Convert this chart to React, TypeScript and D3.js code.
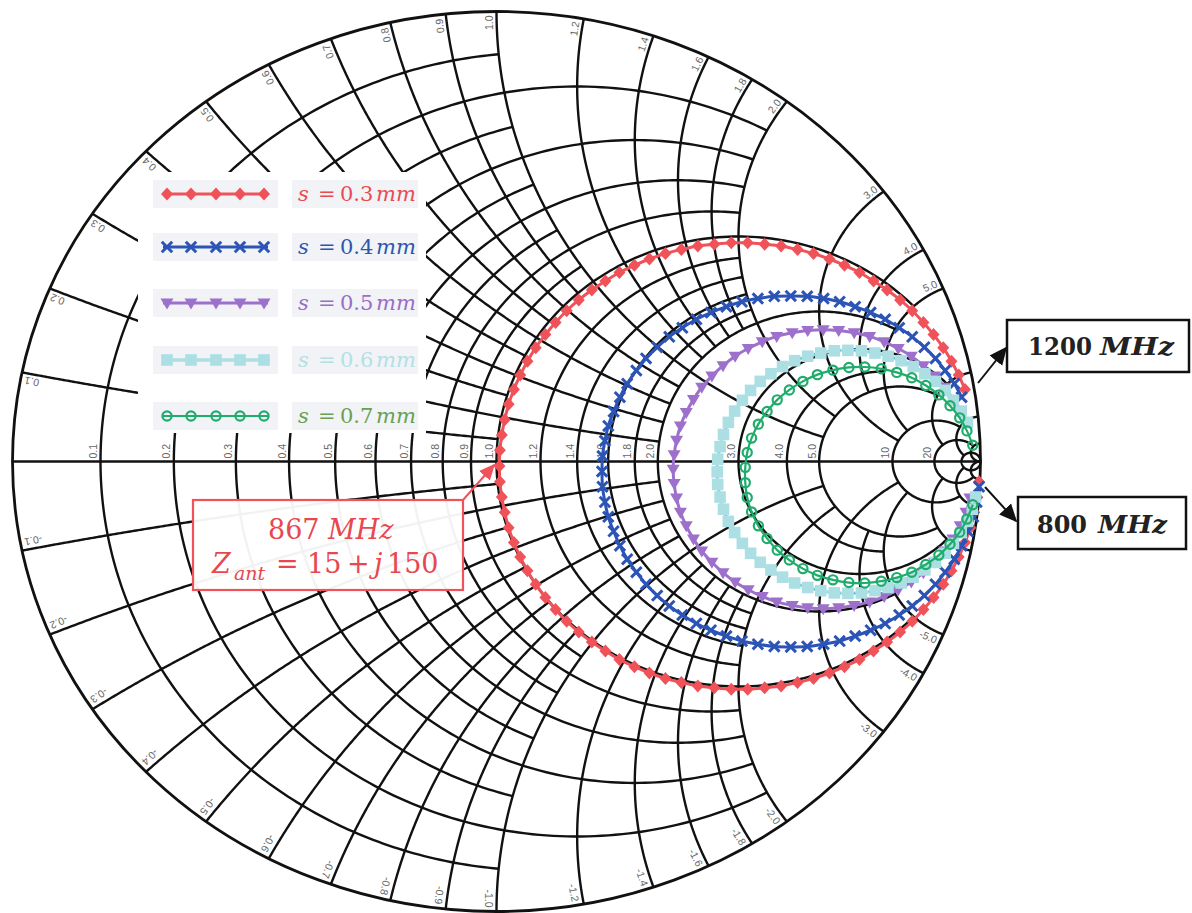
import React from "react";
import * as d3 from "d3";

type P = [number, number];

// Smith chart grid: values and the extent (in the other coordinate) each line is drawn to
const gridValues = [0.1, 0.2, 0.3, 0.4, 0.5, 0.6, 0.7, 0.8, 0.9, 1.0, 1.2, 1.4, 1.6, 1.8, 2.0, 3.0, 4.0, 5.0, 10, 20, 50];
const gridLimits = [1, 2, 1, 2, 1, 2, 1, 2, 1, 5, 2, 2, 2, 2, 5, 10, 5, 10, 20, 50, Infinity];
const axisLabelValues = [0.1, 0.2, 0.3, 0.4, 0.5, 0.6, 0.7, 0.8, 0.9, 1.0, 1.2, 1.4, 1.6, 1.8, 2.0, 3.0, 4.0, 5.0, 10, 20];
const rimLabelValues = [0.1, 0.2, 0.3, 0.4, 0.5, 0.6, 0.7, 0.8, 0.9, 1.0, 1.2, 1.4, 1.6, 1.8, 2.0, 3.0, 4.0, 5.0];

// series: slot spacing s (mm)
const spacingLabels = ["0.3", "0.4", "0.5", "0.6", "0.7"];

// reflection coefficient traces (re, im), 800 MHz -> 1200 MHz
const gammaS03: P[] = [
  [0.997, -0.045], [0.993, -0.079], [0.987, -0.113], [0.979, -0.147], [0.968, -0.180], [0.955, -0.212],
  [0.940, -0.243], [0.923, -0.273], [0.903, -0.302], [0.882, -0.329], [0.859, -0.355], [0.834, -0.379],
  [0.807, -0.401], [0.779, -0.421], [0.750, -0.440], [0.719, -0.456], [0.688, -0.470], [0.655, -0.482],
  [0.622, -0.491], [0.588, -0.499], [0.554, -0.503], [0.519, -0.506], [0.485, -0.506], [0.450, -0.503],
  [0.416, -0.499], [0.382, -0.491], [0.349, -0.482], [0.316, -0.470], [0.285, -0.456], [0.254, -0.440],
  [0.225, -0.421], [0.197, -0.401], [0.170, -0.379], [0.145, -0.355], [0.122, -0.329], [0.101, -0.302],
  [0.081, -0.273], [0.064, -0.243], [0.049, -0.212], [0.036, -0.180], [0.025, -0.147], [0.017, -0.113],
  [0.011, -0.079], [0.007, -0.045], [0.006, -0.010], [0.007, 0.025], [0.011, 0.059], [0.017, 0.093],
  [0.025, 0.127], [0.036, 0.160], [0.049, 0.192], [0.064, 0.223], [0.081, 0.253], [0.101, 0.282],
  [0.122, 0.309], [0.145, 0.335], [0.170, 0.359], [0.197, 0.381], [0.225, 0.401], [0.254, 0.420],
  [0.285, 0.436], [0.316, 0.450], [0.349, 0.462], [0.382, 0.471], [0.416, 0.479], [0.450, 0.483],
  [0.485, 0.486], [0.519, 0.486], [0.554, 0.483], [0.588, 0.479], [0.622, 0.471], [0.655, 0.462],
  [0.688, 0.450], [0.719, 0.436], [0.750, 0.420], [0.779, 0.401], [0.807, 0.381], [0.834, 0.359],
  [0.859, 0.335], [0.882, 0.309], [0.903, 0.282], [0.923, 0.253], [0.940, 0.223], [0.955, 0.192],
  [0.968, 0.160],
];
const gammaS04: P[] = [
  [0.997, -0.056], [0.992, -0.090], [0.985, -0.123], [0.974, -0.155], [0.961, -0.187], [0.946, -0.217],
  [0.927, -0.246], [0.907, -0.273], [0.884, -0.298], [0.859, -0.321], [0.832, -0.341], [0.803, -0.360],
  [0.773, -0.375], [0.741, -0.388], [0.709, -0.399], [0.676, -0.406], [0.642, -0.411], [0.608, -0.412],
  [0.574, -0.411], [0.540, -0.406], [0.507, -0.399], [0.475, -0.388], [0.443, -0.375], [0.413, -0.360],
  [0.384, -0.341], [0.357, -0.321], [0.332, -0.298], [0.309, -0.273], [0.289, -0.246], [0.270, -0.217],
  [0.255, -0.187], [0.242, -0.155], [0.231, -0.123], [0.224, -0.090], [0.219, -0.056], [0.218, -0.022],
  [0.219, 0.012], [0.224, 0.046], [0.231, 0.079], [0.242, 0.111], [0.255, 0.143], [0.270, 0.173],
  [0.289, 0.202], [0.309, 0.229], [0.332, 0.254], [0.357, 0.277], [0.384, 0.297], [0.413, 0.316],
  [0.443, 0.331], [0.475, 0.344], [0.507, 0.355], [0.540, 0.362], [0.574, 0.367], [0.608, 0.368],
  [0.642, 0.367], [0.676, 0.362], [0.709, 0.355], [0.741, 0.344], [0.773, 0.331], [0.803, 0.316],
  [0.832, 0.297], [0.859, 0.277], [0.884, 0.254], [0.907, 0.229], [0.927, 0.202], [0.946, 0.173],
  [0.961, 0.143],
];
const gammaS05: P[] = [
  [0.978, -0.081], [0.970, -0.113], [0.958, -0.143], [0.943, -0.172], [0.926, -0.199], [0.905, -0.224],
  [0.882, -0.247], [0.857, -0.268], [0.830, -0.285], [0.801, -0.300], [0.771, -0.312], [0.739, -0.320],
  [0.707, -0.325], [0.675, -0.327], [0.643, -0.325], [0.611, -0.320], [0.579, -0.312], [0.549, -0.300],
  [0.520, -0.285], [0.493, -0.268], [0.468, -0.247], [0.445, -0.224], [0.424, -0.199], [0.407, -0.172],
  [0.392, -0.143], [0.380, -0.113], [0.372, -0.081], [0.367, -0.049], [0.365, -0.017], [0.367, 0.015],
  [0.372, 0.047], [0.380, 0.079], [0.392, 0.109], [0.407, 0.138], [0.424, 0.165], [0.445, 0.190],
  [0.468, 0.213], [0.493, 0.234], [0.520, 0.251], [0.549, 0.266], [0.579, 0.278], [0.611, 0.286],
  [0.643, 0.291], [0.675, 0.293], [0.707, 0.291], [0.739, 0.286], [0.771, 0.278], [0.801, 0.266],
  [0.830, 0.251], [0.857, 0.234], [0.882, 0.213], [0.905, 0.190], [0.926, 0.165], [0.943, 0.138],
  [0.958, 0.109],
];
const gammaS06: P[] = [
  [0.990, -0.079], [0.983, -0.106], [0.973, -0.133], [0.960, -0.158], [0.944, -0.182], [0.927, -0.204],
  [0.907, -0.224], [0.885, -0.241], [0.861, -0.257], [0.836, -0.270], [0.809, -0.280], [0.782, -0.287],
  [0.754, -0.292], [0.726, -0.293], [0.698, -0.292], [0.670, -0.287], [0.643, -0.280], [0.616, -0.270],
  [0.591, -0.257], [0.567, -0.241], [0.545, -0.224], [0.525, -0.204], [0.508, -0.182], [0.492, -0.158],
  [0.479, -0.133], [0.469, -0.106], [0.462, -0.079], [0.457, -0.051], [0.456, -0.023], [0.457, 0.005],
  [0.462, 0.033], [0.469, 0.060], [0.479, 0.087], [0.492, 0.112], [0.508, 0.136], [0.525, 0.158],
  [0.545, 0.178], [0.567, 0.195], [0.591, 0.211], [0.616, 0.224], [0.643, 0.234], [0.670, 0.241],
  [0.698, 0.246], [0.726, 0.247], [0.754, 0.246], [0.782, 0.241], [0.809, 0.234], [0.836, 0.224],
  [0.861, 0.211], [0.885, 0.195], [0.907, 0.178], [0.927, 0.158], [0.944, 0.136], [0.960, 0.112],
  [0.973, 0.087],
];
const gammaS07: P[] = [
  [0.984, -0.096], [0.972, -0.128], [0.957, -0.157], [0.937, -0.184], [0.914, -0.208], [0.887, -0.229],
  [0.858, -0.246], [0.827, -0.258], [0.795, -0.266], [0.761, -0.270], [0.728, -0.269], [0.695, -0.263],
  [0.663, -0.253], [0.633, -0.238], [0.605, -0.219], [0.580, -0.197], [0.559, -0.171], [0.541, -0.143],
  [0.527, -0.112], [0.518, -0.080], [0.514, -0.047], [0.514, -0.013], [0.518, 0.020], [0.527, 0.052],
  [0.541, 0.083], [0.559, 0.111], [0.580, 0.137], [0.605, 0.159], [0.633, 0.178], [0.663, 0.193],
  [0.695, 0.203], [0.728, 0.209], [0.761, 0.210], [0.795, 0.206], [0.827, 0.198], [0.858, 0.186],
  [0.887, 0.169], [0.914, 0.148], [0.937, 0.124], [0.957, 0.097], [0.972, 0.068], [0.984, 0.036],
];

const W = 1192;
const H = 913;

type MarkerKind = "diamond" | "x" | "tri" | "square" | "circle";
const seriesStyles: { data: P[]; color: string; text: string; marker: MarkerKind; lw: number }[] = [
  { data: gammaS03, color: "#ef5359", text: "#ea4a52", marker: "diamond", lw: 3 },
  { data: gammaS04, color: "#2b54b6", text: "#2d55b2", marker: "x", lw: 3 },
  { data: gammaS05, color: "#9d70cb", text: "#9a6dc6", marker: "tri", lw: 3 },
  { data: gammaS06, color: "#acdfe3", text: "#b2e0e5", marker: "square", lw: 3.5 },
  { data: gammaS07, color: "#1fac6c", text: "#69a053", marker: "circle", lw: 2.2 },
];

function gammaOf(r: number, x: number): P {
  const d = (r + 1) * (r + 1) + x * x;
  return [(r * r + x * x - 1) / d, (2 * x) / d];
}

function fmt(v: number) {
  return v < 10 ? v.toFixed(1) : String(v);
}

function Marker({ kind, x, y, color }: { kind: MarkerKind; x: number; y: number; color: string }) {
  switch (kind) {
    case "diamond":
      return <path d={`M${x},${y - 6.5}L${x + 6},${y}L${x},${y + 6.5}L${x - 6},${y}Z`} fill={color} />;
    case "x":
      return (
        <path
          d={`M${x - 5.2},${y - 5.2}L${x + 5.2},${y + 5.2}M${x - 5.2},${y + 5.2}L${x + 5.2},${y - 5.2}`}
          stroke={color}
          strokeWidth={3}
          fill="none"
        />
      );
    case "tri":
      return <path d={`M${x - 6.5},${y - 4.5}L${x + 6.5},${y - 4.5}L${x},${y + 6.5}Z`} fill={color} />;
    case "square":
      return <rect x={x - 5.8} y={y - 5.8} width={11.6} height={11.6} fill={color} />;
    case "circle":
      return <circle cx={x} cy={y} r={4.6} fill="none" stroke={color} strokeWidth={2.2} />;
  }
}

export default function App() {
  const sx = d3.scaleLinear().domain([-1, 1]).range([12.5, 980.5]);
  const sy = d3.scaleLinear().domain([-1, 1]).range([911.5, 11.5]);
  const line = d3
    .line<P>()
    .x((d) => sx(d[0]))
    .y((d) => sy(d[1]));
  const smooth = d3
    .line<P>()
    .x((d) => sx(d[0]))
    .y((d) => sy(d[1]))
    .curve(d3.curveCatmullRom);

  const N = 240;
  const rCircle = (r: number, L: number) => {
    const umax = L === Infinity ? Math.PI / 2 - 1e-5 : Math.atan(L / (r + 1));
    const pts = d3.range(N + 1).map((i) => {
      const u = -umax + (2 * umax * i) / N;
      return gammaOf(r, (r + 1) * Math.tan(u));
    });
    return line(pts) || "";
  };
  const xArc = (x: number, L: number) => {
    const ax = Math.abs(x);
    const wmin = L === Infinity ? 1e-5 : Math.atan(ax / (L + 1));
    const wmax = Math.atan(ax);
    const pts = d3.range(N + 1).map((i) => {
      const w = wmax - ((wmax - wmin) * i) / N;
      return gammaOf(ax / Math.tan(w) - 1, x);
    });
    return line(pts) || "";
  };

  const c0x = sx(0);
  const c0y = sy(0);
  const rx = sx(1) - sx(0);
  const ry = sy(0) - sy(1);

  const gridPaths: string[] = [];
  gridValues.forEach((v, i) => {
    const L = gridLimits[i];
    gridPaths.push(rCircle(v, L));
    gridPaths.push(xArc(v, L));
    gridPaths.push(xArc(-v, L));
  });

  const legendRows = [194, 247, 303, 360, 416];
  const legendMarkX = [167, 191, 216, 240, 264];

  const mathFont = "'DejaVu Serif', 'Liberation Serif', serif";
  const labelFont = "'Liberation Sans', Arial, sans-serif";

  return (
    <svg width={W} height={H} style={{ position: "absolute", left: 0, top: 0, background: "#fff" }}>
      <defs>
        <marker id="ahBlack" viewBox="0 0 10 10" refX="9" refY="5" markerWidth="9" markerHeight="9" orient="auto">
          <path d="M0,0.5L10,5L0,9.5Z" fill="#111" />
        </marker>
        <marker id="ahRed" viewBox="0 0 10 10" refX="9" refY="5" markerWidth="8" markerHeight="8" orient="auto">
          <path d="M0,0.5L10,5L0,9.5Z" fill="#ef5359" />
        </marker>
      </defs>
      <rect x={0} y={0} width={W} height={H} fill="#fff" />

      {/* grid */}
      <g fill="none" stroke="#111" strokeWidth={2.4}>
        {gridPaths.map((d, i) => (
          <path key={i} d={d} />
        ))}
        <line x1={sx(-1)} x2={sx(1)} y1={c0y} y2={c0y} />
        <ellipse cx={c0x} cy={c0y} rx={rx} ry={ry} strokeWidth={2.8} />
      </g>

      {/* axis and rim labels */}
      <g fontFamily={labelFont} fontSize={10.5} fill="#666">
        {axisLabelValues.map((v) => {
          const px = sx(gammaOf(v, 0)[0]);
          return (
            <text key={"a" + v} transform={`translate(${px - 3.5},${c0y - 3}) rotate(-90)`} textAnchor="start">
              {fmt(v)}
            </text>
          );
        })}
        {rimLabelValues.flatMap((v) =>
          [1, -1].map((s) => {
            const g = gammaOf(0, s * v);
            const phi = (Math.atan2(g[1], g[0]) * 180) / Math.PI;
            return (
              <text
                key={"r" + v + "_" + s}
                transform={`translate(${sx(g[0])},${sy(g[1])}) rotate(${-phi})`}
                x={-4}
                y={s > 0 ? -3.5 : 11.5}
                textAnchor="end"
              >
                {(s < 0 ? "-" : "") + fmt(v)}
              </text>
            );
          })
        )}
      </g>

      {/* legend */}
      <rect x={138} y={172} width={288} height={261} fill="#fff" />
      {seriesStyles.map((st, i) => {
        const ly = legendRows[i];
        return (
          <g key={"lg" + i}>
            <rect x={153} y={ly - 14} width={125} height={28} fill="#f1f3f6" />
            <rect x={292} y={ly - 14} width={126} height={28} fill="#f1f3f6" />
            <line x1={163} x2={268} y1={ly} y2={ly} stroke={st.color} strokeWidth={st.lw} />
            {legendMarkX.map((mx) => (
              <Marker key={mx} kind={st.marker} x={mx} y={ly} color={st.color} />
            ))}
            <text y={ly + 7} fontFamily={mathFont} fontSize={21} fill={st.text}>
              <tspan x={298} fontStyle="italic">s</tspan>
              <tspan x={318}>=</tspan>
              <tspan x={340}>{spacingLabels[i]}</tspan>
              <tspan x={376} fontStyle="italic">mm</tspan>
            </text>
          </g>
        );
      })}

      {/* data traces */}
      {seriesStyles.map((st, i) => (
        <g key={"s" + i}>
          <path d={smooth(st.data) || ""} fill="none" stroke={st.color} strokeWidth={st.lw} />
          {st.marker === "square" && (
            <path d={smooth(st.data) || ""} fill="none" stroke="#3dbccb" strokeWidth={1.4} strokeDasharray="2,3" />
          )}
          {st.data.map((d, j) => (
            <Marker key={j} kind={st.marker} x={sx(d[0])} y={sy(d[1])} color={st.color} />
          ))}
        </g>
      ))}

      {/* 867 MHz annotation */}
      <rect x={193} y={500} width={270} height={90} fill="#fff" fillOpacity={0.95} stroke="#ef5359" strokeWidth={2.2} />
      <line x1={463} y1={500} x2={494} y2={465} stroke="#ef5359" strokeWidth={2} markerEnd="url(#ahRed)" />
      <text fontFamily={mathFont} fontSize={27} fill="#e8474f">
        <tspan x={268} y={539}>867</tspan>
        <tspan x={328} y={539} fontStyle="italic">MHz</tspan>
        <tspan x={212} y={573} fontStyle="italic">Z</tspan>
        <tspan x={234} y={580} fontStyle="italic" fontSize={19}>ant</tspan>
        <tspan x={276} y={573}>=</tspan>
        <tspan x={307} y={573}>15</tspan>
        <tspan x={347} y={573}>+</tspan>
        <tspan x={374} y={573} fontStyle="italic">j</tspan>
        <tspan x={387} y={573}>150</tspan>
      </text>

      {/* frequency call-outs */}
      <line x1={978} y1={383} x2={1006} y2={348} stroke="#111" strokeWidth={2} markerEnd="url(#ahBlack)" />
      <rect x={1007} y={320} width={182} height={52} fill="#fff" stroke="#111" strokeWidth={2.5} />
      <g fontFamily={mathFont} fontWeight="bold" fill="#222" fontSize={25}>
        <text x={1028} y={355} textLength={64} lengthAdjust="spacingAndGlyphs">1200</text>
        <text x={1100} y={355} fontStyle="italic" textLength={74} lengthAdjust="spacingAndGlyphs">MHz</text>
      </g>

      <line x1={985} y1={487} x2={1016} y2={521} stroke="#111" strokeWidth={2} markerEnd="url(#ahBlack)" />
      <rect x={1018} y={497} width={168} height={52} fill="#fff" stroke="#111" strokeWidth={2.5} />
      <g fontFamily={mathFont} fontWeight="bold" fill="#222" fontSize={25}>
        <text x={1037} y={533} textLength={50} lengthAdjust="spacingAndGlyphs">800</text>
        <text x={1098} y={533} fontStyle="italic" textLength={69} lengthAdjust="spacingAndGlyphs">MHz</text>
      </g>
    </svg>
  );
}
